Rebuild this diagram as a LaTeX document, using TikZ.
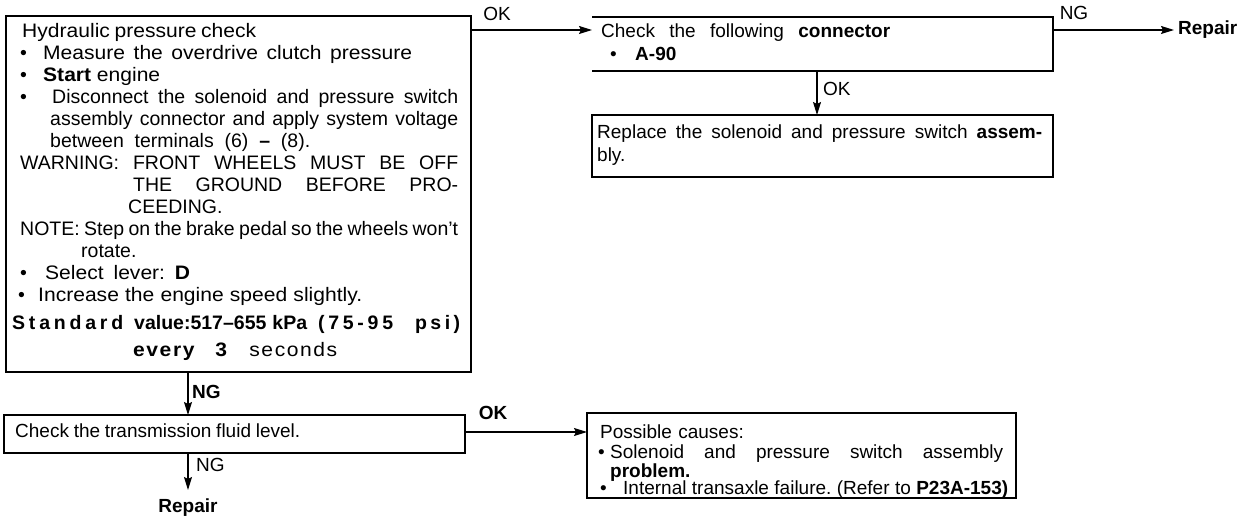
\documentclass[tikz,border=0pt]{standalone}
\usepackage{fontspec}
\setmainfont{Liberation Sans}
\usetikzlibrary{arrows.meta,calc}

% a line spread to a given width, a bullet in a box of given width,
% and a slightly widened face for the broad lines of the first box
\newcommand{\jl}[2]{\makebox[#1][s]{\spaceskip=.28em plus 1fil minus .12em\xspaceskip=.28em plus 1fil minus .12em\relax #2}}
\newcommand{\bul}[1]{\makebox[#1][l]{\textbullet}}
\newcommand{\wide}[1]{{\addfontfeature{FakeStretch=1.08}#1}}

\begin{document}
\begin{tikzpicture}[x=1pt,y=-1pt,
  box/.style={draw, line width=1.5pt, inner sep=0pt, outer sep=0pt, anchor=north west},
  txt/.style={inner sep=0pt, anchor=base west, align=left, text width=470pt,
              font=\fontsize{19}{22}\selectfont},
  lbl/.style={inner sep=0pt, font=\fontsize{19}{22}\selectfont},
  lblb/.style={inner sep=0pt, font=\fontsize{19}{22}\selectfont\bfseries},
  arr/.style={line width=1.2pt, -{Stealth[length=13pt,width=8pt,inset=2pt]}}]
\useasboundingbox (0,0) rectangle (1242,518);

% boxes
\node[box, minimum width=465pt, minimum height=356pt] (b1) at (6,16) {};
\node[box, draw=none, minimum width=461pt, minimum height=54pt] (b2) at (592,17) {};
\draw[line width=1.5pt] (b2.north west) -- (b2.north east) -- (b2.south east) -- (b2.south west);
\node[box, minimum width=461pt, minimum height=62pt] (b3) at (592,115) {};
\node[box, minimum width=461pt, minimum height=38pt] (b4) at (4,415) {};
\node[box, minimum width=429pt, minimum height=85pt] (b5) at (587,413) {};

% box texts
\node[txt, font=\fontsize{19.5}{22}\selectfont] (t1) at (20,38) {%
\hspace*{2pt}\wide{\jl{234pt}{Hydraulic pressure check}}\\
\bul{23pt}\wide{\jl{369pt}{Measure the overdrive clutch pressure}}\\
\bul{23pt}\wide{\jl{117pt}{\textbf{Start} engine}}\\
\bul{32pt}\jl{406pt}{Disconnect the solenoid and pressure switch}\\
\hspace*{30pt}\jl{408pt}{assembly connector and apply system voltage}\\
\hspace*{30pt}\jl{260pt}{between terminals (6) \textbf{--} (8).}\\
\jl{438pt}{WARNING: FRONT WHEELS MUST BE OFF}\\
\hspace*{113pt}\jl{325pt}{THE GROUND BEFORE PRO-}\\
\hspace*{108pt}CEEDING.\\
\jl{438pt}{NOTE: Step on the brake pedal so the wheels won't}\\
\hspace*{61pt}rotate.\\
\bul{25pt}\wide{\jl{145pt}{Select lever: \textbf{D}}}\\
\hspace*{-2pt}\bul{20pt}\wide{\jl{324pt}{Increase the engine speed slightly.}}\\[6pt]
\hspace*{-8pt}\textbf{\makebox[111pt][s]{S\hfill t\hfill a\hfill n\hfill d\hfill a\hfill r\hfill d}\hspace{11pt}value:517--655\hspace{6pt}kPa\hspace{11pt}\makebox[75pt][s]{(\hfill 7\hfill 5\hfill -\hfill 9\hfill 5}\hspace{22pt}\makebox[45pt][s]{p\hfill s\hfill i\hfill )}}\\[5pt]
\hspace*{113pt}\wide{\addfontfeature{LetterSpace=8}\jl{204pt}{\textbf{every 3} seconds}}};

\node[txt] (t2) at (601,38) {%
\jl{289pt}{Check the following \textbf{connector}}\\[1pt]
\hspace*{9pt}\bul{25pt}\textbf{A-90}};

\node[txt] (t3) at (597,139) {%
\jl{445pt}{Replace the solenoid and pressure switch \textbf{assem-}}\\[1pt]
bly.};

\node[txt] (t4) at (15,437) {\jl{285pt}{Check the transmission fluid level.}};

\node[txt, font=\fontsize{19}{19}\selectfont] (t5) at (600,438) {%
Possible causes:\\[1pt]
\hspace*{-2pt}\bul{12pt}\jl{393pt}{Solenoid and pressure switch assembly}\\
\hspace*{10pt}\textbf{problem.}\\[-2pt]
\bul{23pt}\jl{385pt}{Internal transaxle failure. (Refer to \textbf{P23A-153)}}};

% connector labels and end texts
\node[lbl] (ok1) at (497,14) {OK};
\node[lbl] (ng1) at (1074,13) {NG};
\node[lbl, anchor=west] (ok2) at (823,89) {OK};
\node[lblb, anchor=west] (ng2) at (192,392) {NG};
\node[lblb] (ok3) at (493,413) {OK};
\node[lbl, anchor=west] (ng3) at (196,465) {NG};
\node[lblb, anchor=west] (rep1) at (1178,30) {Repair};
\node[lblb, anchor=north] (rep2) at (188,499) {Repair};

% connectors
\draw[arr] ([yshift=-14pt]b1.north east) -- ([yshift=-14pt]b1.north east -| b2.west);
\draw[arr, shorten >=4pt] ([yshift=-13pt]b2.north east) -- (rep1.west);
\draw[arr] ([xshift=-5.5pt]b2.south) -- ([xshift=-5.5pt]b2.south |- b3.north);
\draw[arr] ([xshift=182pt]b1.south west) -- ([xshift=182pt]b1.south west |- b4.north);
\draw[arr] ([yshift=-17pt]b4.north east) -- ([yshift=-17pt]b4.north east -| b5.west);
\draw[arr] ([xshift=184pt]b4.south west) -- ([yshift=9pt]rep2.north);
\end{tikzpicture}
\end{document}
